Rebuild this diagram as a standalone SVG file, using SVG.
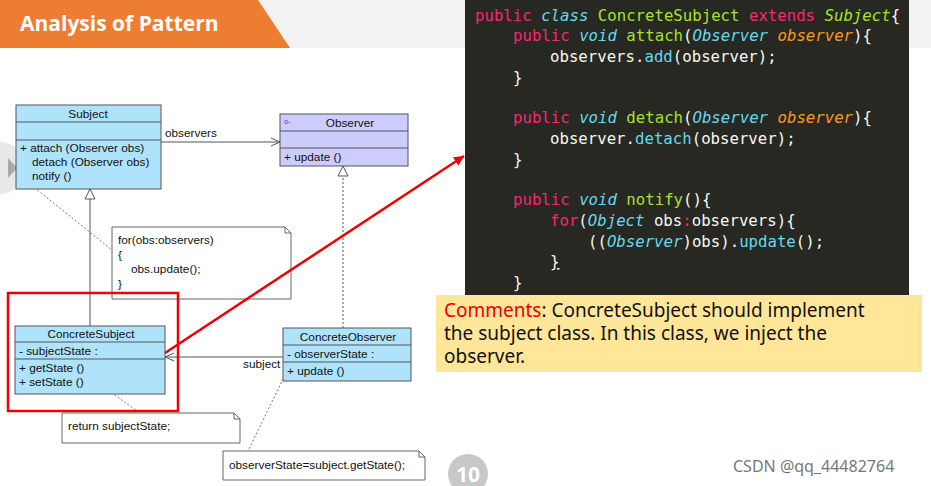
<svg xmlns="http://www.w3.org/2000/svg" width="931" height="486" viewBox="0 0 931 486">
<style>
.u{font-family:"Liberation Sans",Arial,sans-serif;font-size:11.8px;fill:#111}
.cls{stroke:#555;stroke-width:1}
.c{font-family:"DejaVu Sans Mono","Liberation Mono",monospace;font-size:15.7px;fill:#f8f8f2}
.k{fill:#f92672}.t{fill:#66d9ef;font-style:italic}.g{fill:#a6e22e}.o{fill:#fd971f;font-style:italic}.b{fill:#66d9ef}
.cm{font-family:"Noto Sans","Open Sans",sans-serif;font-size:19px;fill:#111}
</style>
<defs>
<marker id="open" markerWidth="10" markerHeight="10" refX="9" refY="5" orient="auto" markerUnits="userSpaceOnUse"><path d="M0,1 L9,5 L0,9" fill="none" stroke="#555"/></marker>
<marker id="tri" markerWidth="12" markerHeight="12" refX="11" refY="6" orient="auto" markerUnits="userSpaceOnUse"><path d="M1,1 L11,6 L1,11 Z" fill="#fff" stroke="#555"/></marker>
<marker id="red" markerWidth="12" markerHeight="12" refX="10" refY="6" orient="auto" markerUnits="userSpaceOnUse"><path d="M0,1 L10,6 L0,11 Z" fill="#e00"/></marker>
</defs>
<rect width="931" height="486" fill="#fff"/>
<rect width="931" height="48" fill="#f2f2f2"/>
<path d="M0,0 H258 L290,48 H0 Z" fill="#ed7d31"/>
<text x="20" y="31" font-family="'Open Sans','Noto Sans',sans-serif" font-size="21" font-weight="bold" fill="#fff">Analysis of Pattern</text>
<path d="M0,142 A26,26 0 0 1 0,194 Z" fill="#e8e8e8"/>
<path d="M8,158 L17,168 L8,178 Z" fill="#aaa"/>

<g id="connectors" fill="none">
<line x1="161" y1="142" x2="280" y2="142" class="cls" marker-end="url(#open)"/>
<text x="165" y="137" class="u" font-size="10.5" fill="#333">observers</text>
<line x1="90" y1="326" x2="90" y2="189" class="cls" marker-end="url(#tri)"/>
<line x1="343" y1="328" x2="343" y2="166" class="cls" stroke-dasharray="2,2" marker-end="url(#tri)"/>
<line x1="283" y1="357" x2="165" y2="357" class="cls" marker-end="url(#open)"/>
<text x="243" y="368" class="u" font-size="10.5" fill="#333">subject</text>
<line x1="25" y1="180" x2="112" y2="250" stroke="#777" stroke-dasharray="2,2"/>
<line x1="85" y1="374" x2="140" y2="413" stroke="#777" stroke-dasharray="2,2"/>
<line x1="285" y1="375" x2="248" y2="451" stroke="#777" stroke-dasharray="2,2"/>
</g>

<g id="Subject">
<rect x="16" y="105" width="145" height="84" fill="#aee3fb" class="cls"/>
<line x1="16" y1="122" x2="161" y2="122" class="cls"/><line x1="16" y1="140" x2="161" y2="140" class="cls"/>
<text x="88" y="118" class="u" text-anchor="middle">Subject</text>
<text x="20" y="152" class="u">+  attach (Observer obs)</text>
<text x="32" y="166" class="u">detach (Observer obs)</text>
<text x="32" y="180" class="u">notify ()</text>
</g>
<g id="Observer">
<rect x="280" y="114" width="128" height="52" fill="#ccccff" class="cls"/>
<line x1="280" y1="131" x2="408" y2="131" class="cls"/><line x1="280" y1="148" x2="408" y2="148" class="cls"/>
<text x="350" y="127" class="u" text-anchor="middle">Observer</text>
<text x="284" y="124" font-family="Liberation Sans" font-size="7" fill="#33c">o-</text>
<text x="284" y="161" class="u">+  update ()</text>
</g>
<g id="ConcreteSubject">
<rect x="15" y="326" width="150" height="68" fill="#aee3fb" class="cls"/>
<line x1="15" y1="342" x2="165" y2="342" class="cls"/><line x1="15" y1="359" x2="165" y2="359" class="cls"/>
<text x="91" y="338" class="u" text-anchor="middle">ConcreteSubject</text>
<text x="19" y="355" class="u">-  subjectState  :</text>
<text x="19" y="372" class="u">+  getState ()</text>
<text x="19" y="386" class="u">+  setState ()</text>
</g>
<g id="ConcreteObserver">
<rect x="283" y="328" width="128" height="53" fill="#aee3fb" class="cls"/>
<line x1="283" y1="345" x2="411" y2="345" class="cls"/><line x1="283" y1="362" x2="411" y2="362" class="cls"/>
<text x="348" y="341" class="u" text-anchor="middle">ConcreteObserver</text>
<text x="287" y="358" class="u">-  observerState  :</text>
<text x="287" y="375" class="u">+  update ()</text>
</g>
<g id="note1">
<path d="M112,227 H285 L291,233 V299 H112 Z" fill="#fff" stroke="#666"/>
<path d="M285,227 V233 H291" fill="none" stroke="#666"/>
<text x="118" y="244" class="u">for(obs:observers)</text>
<text x="118" y="259" class="u">{</text>
<text x="131" y="273" class="u">obs.update();</text>
<text x="118" y="288" class="u">}</text>
</g>
<g id="note2">
<path d="M62,413 H234 L240,419 V443 H62 Z" fill="#fff" stroke="#666"/>
<path d="M234,413 V419 H240" fill="none" stroke="#666"/>
<text x="68" y="430" class="u">return subjectState;</text>
</g>
<g id="note3">
<path d="M223,451 H419 L425,457 V480 H223 Z" fill="#fff" stroke="#666"/>
<path d="M419,451 V457 H425" fill="none" stroke="#666"/>
<text x="229" y="469" class="u">observerState=subject.getState();</text>
</g>

<rect x="8" y="293" width="170" height="118" fill="none" stroke="#e00" stroke-width="2.5"/>
<line x1="165" y1="353" x2="464" y2="156" stroke="#e00" stroke-width="2.5" marker-end="url(#red)"/>

<g id="code">
<rect x="465" y="0" width="444" height="295" fill="#272822"/>
<text class="c" x="475" y="21"><tspan class="k">public</tspan> <tspan class="t">class</tspan> <tspan class="g">ConcreteSubject</tspan> <tspan class="k">extends</tspan> <tspan class="g" font-style="italic">Subject</tspan>{</text>
<text class="c" x="513" y="41"><tspan class="k">public</tspan> <tspan class="t">void</tspan> <tspan class="g">attach</tspan>(<tspan class="t">Observer</tspan> <tspan class="o">observer</tspan>){</text>
<text class="c" x="550" y="62">observers.<tspan class="b">add</tspan>(observer);</text>
<text class="c" x="513" y="83">}</text>
<text class="c" x="513" y="123"><tspan class="k">public</tspan> <tspan class="t">void</tspan> <tspan class="g">detach</tspan>(<tspan class="t">Observer</tspan> <tspan class="o">observer</tspan>){</text>
<text class="c" x="550" y="144">observer.<tspan class="b">detach</tspan>(observer);</text>
<text class="c" x="513" y="165">}</text>
<text class="c" x="513" y="205"><tspan class="k">public</tspan> <tspan class="t">void</tspan> <tspan class="g">notify</tspan>(){</text>
<text class="c" x="550" y="226"><tspan class="k">for</tspan>(<tspan class="t">Object</tspan> obs<tspan class="k">:</tspan>observers){</text>
<text class="c" x="588" y="247">((<tspan class="t">Observer</tspan>)obs).<tspan class="b">update</tspan>();</text>
<text class="c" x="550" y="267" text-decoration="underline">}</text>
<text class="c" x="513" y="288">}</text>
</g>
<g id="comment">
<rect x="436" y="295" width="486" height="77" fill="#ffe699"/>
<text class="cm" x="444" y="317"><tspan fill="#e00">Comments</tspan>: ConcreteSubject should implement</text>
<text class="cm" x="444" y="340">the subject class. In this class, we inject the</text>
<text class="cm" x="444" y="363">observer.</text>
</g>
<circle cx="468" cy="474" r="20" fill="#c8c8c8"/>
<text x="468" y="482" text-anchor="middle" font-family="'Open Sans',sans-serif" font-size="21" font-weight="bold" fill="#fff">10</text>
<text x="733" y="472" font-family="'Noto Sans',sans-serif" font-size="16" fill="#777">CSDN @qq_44482764</text>
</svg>
